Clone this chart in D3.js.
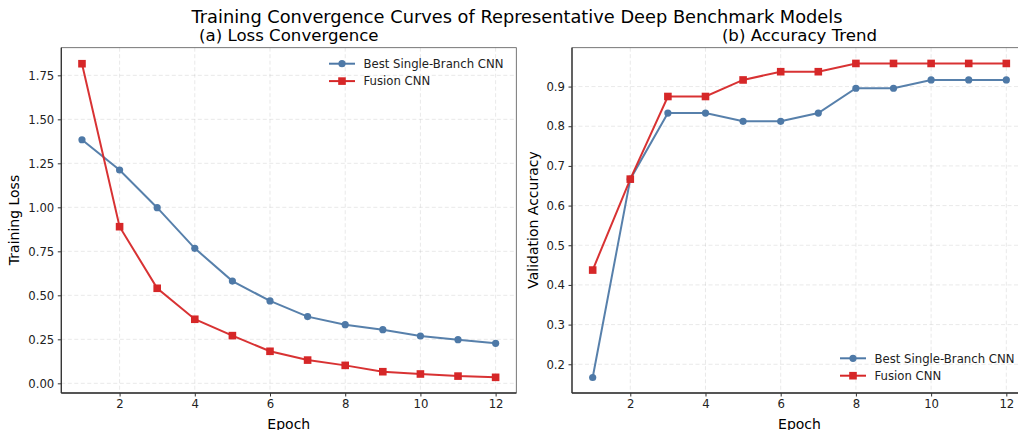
<!DOCTYPE html>
<html>
<head>
<meta charset="utf-8">
<script src="https://cdn.jsdelivr.net/npm/d3@7"></script>
<style>
  body { margin: 0; background: #fff; }
  svg { font-family: "DejaVu Sans", sans-serif; display: block; }
</style>
</head>
<body>
<div id="chart"></div>
<script>
// Training curves: loss (left) and accuracy (right)

const epochs = [1, 2, 3, 4, 5, 6, 7, 8, 9, 10, 11, 12];
const seriesNames = ["Best Single-Branch CNN", "Fusion CNN"];
const lossSingle = [1.384, 1.212, 0.998, 0.767, 0.581, 0.468, 0.379, 0.333, 0.305, 0.269, 0.248, 0.227];
const lossFusion = [1.816, 0.890, 0.540, 0.364, 0.271, 0.182, 0.132, 0.102, 0.066, 0.053, 0.041, 0.034];
const accSingle = [0.1667, 0.6667, 0.8333, 0.8333, 0.8125, 0.8125, 0.8333, 0.8958, 0.8958, 0.9167, 0.9167, 0.9167];
const accFusion = [0.4375, 0.6667, 0.875, 0.875, 0.9167, 0.9375, 0.9375, 0.9583, 0.9583, 0.9583, 0.9583, 0.9583];
const xTicks = [2, 4, 6, 8, 10, 12];
const lossTicks = [0, 0.25, 0.5, 0.75, 1.0, 1.25, 1.5, 1.75];
const accTicks = [0.2, 0.3, 0.4, 0.5, 0.6, 0.7, 0.8, 0.9];

const colors = ["#4e79a7", "#d62728"];
const width = 1018, height = 430;

const svg = d3.select("#chart").append("svg")
    .attr("width", width)
    .attr("height", height);

svg.append("text")
    .attr("x", 517).attr("y", 23)
    .attr("text-anchor", "middle")
    .style("font-size", "17.8px")
    .text("Training Convergence Curves of Representative Deep Benchmark Models");

function panel(cfg) {
    const x = d3.scaleLinear().domain([0.45, 12.55]).range([cfg.left, cfg.left + 455]);
    const y = d3.scaleLinear().domain(cfg.yDomain).range([393, 47.7]);
    const g = svg.append("g");

    // grid
    g.append("g").selectAll("line").data(xTicks).join("line")
        .attr("x1", d => x(d)).attr("x2", d => x(d))
        .attr("y1", 47.7).attr("y2", 393)
        .attr("stroke", "#b0b0b0").attr("stroke-opacity", 0.35)
        .attr("stroke-dasharray", "4,2.5").attr("stroke-width", 0.8);
    g.append("g").selectAll("line").data(cfg.yTicks).join("line")
        .attr("x1", cfg.left).attr("x2", cfg.left + 455)
        .attr("y1", d => y(d)).attr("y2", d => y(d))
        .attr("stroke", "#b0b0b0").attr("stroke-opacity", 0.35)
        .attr("stroke-dasharray", "4,2.5").attr("stroke-width", 0.8);

    // axes
    const xAxis = g.append("g")
        .attr("transform", "translate(0,393)")
        .call(d3.axisBottom(x).tickValues(xTicks).tickSize(3.5).tickPadding(3.5).tickFormat(d3.format("d")));
    const yAxis = g.append("g")
        .attr("transform", `translate(${cfg.left},0)`)
        .call(d3.axisLeft(y).tickValues(cfg.yTicks).tickSize(3.5).tickPadding(3.5).tickFormat(d3.format(cfg.fmt)));
    [xAxis, yAxis].forEach(a => {
        a.select(".domain").remove();
        a.selectAll("line").attr("stroke", "#333");
        a.selectAll("text").style("font-size", "11.7px").attr("fill", "#222")
            .style("font-family", "DejaVu Sans, sans-serif");
    });

    // frame
    g.append("rect")
        .attr("x", cfg.left).attr("y", 47.7)
        .attr("width", 455).attr("height", 393 - 47.7)
        .attr("fill", "none").attr("stroke", "#555").attr("stroke-width", 0.8);
    g.append("line").attr("x1", cfg.left).attr("x2", cfg.left)
        .attr("y1", 47.7).attr("y2", 393).attr("stroke", "#333").attr("stroke-width", 1.3);
    g.append("line").attr("x1", cfg.left).attr("x2", cfg.left + 455)
        .attr("y1", 393).attr("y2", 393).attr("stroke", "#333").attr("stroke-width", 1.3);

    // lines and markers
    const line = d3.line().x((d, i) => x(epochs[i])).y(d => y(d));
    cfg.series.forEach((vals, s) => {
        g.append("path").datum(vals)
            .attr("d", line)
            .attr("fill", "none")
            .attr("stroke", colors[s])
            .attr("stroke-width", 2)
            .attr("stroke-opacity", 0.95);
        if (s === 0) {
            g.append("g").selectAll("circle").data(vals).join("circle")
                .attr("cx", (d, i) => x(epochs[i])).attr("cy", d => y(d))
                .attr("r", 3.6).attr("fill", colors[s]);
        } else {
            g.append("g").selectAll("rect").data(vals).join("rect")
                .attr("x", (d, i) => x(epochs[i]) - 3.8).attr("y", d => y(d) - 3.8)
                .attr("width", 7.6).attr("height", 7.6).attr("fill", colors[s]);
        }
    });

    // titles
    const cx = cfg.left + 455 / 2;
    svg.append("text").attr("x", cx).attr("y", 41)
        .attr("text-anchor", "middle").style("font-size", "16.6px").text(cfg.title);
    svg.append("text").attr("x", cx).attr("y", 429)
        .attr("text-anchor", "middle").style("font-size", "14px").text("Epoch");
    svg.append("text")
        .attr("transform", `translate(${cfg.labelX},220) rotate(-90)`)
        .attr("text-anchor", "middle").style("font-size", "14px").text(cfg.yLabel);

    // legend
    const lg = svg.append("g").attr("transform", `translate(${cfg.legend[0]},${cfg.legend[1]})`);
    seriesNames.forEach((name, i) => {
        const row = lg.append("g").attr("transform", `translate(0,${i * 17.4})`);
        row.append("line").attr("x1", 0).attr("x2", 26).attr("y1", 0).attr("y2", 0)
            .attr("stroke", colors[i]).attr("stroke-width", 2);
        if (i === 0) row.append("circle").attr("cx", 13).attr("cy", 0).attr("r", 3.6).attr("fill", colors[i]);
        else row.append("rect").attr("x", 9.2).attr("y", -3.8).attr("width", 7.6).attr("height", 7.6).attr("fill", colors[i]);
        row.append("text").attr("x", 34.5).attr("y", 4.2)
            .style("font-size", "11.7px").attr("fill", "#222").text(name);
    });
}

panel({
    left: 61.3, yDomain: [-0.055, 1.907], yTicks: lossTicks, fmt: ".2f",
    series: [lossSingle, lossFusion], title: "(a) Loss Convergence",
    yLabel: "Training Loss", labelX: 19, legend: [329, 63.7]
});
panel({
    left: 572, yDomain: [0.1276, 0.998], yTicks: accTicks, fmt: ".1f",
    series: [accSingle, accFusion], title: "(b) Accuracy Trend",
    yLabel: "Validation Accuracy", labelX: 538, legend: [840, 358.3]
});
</script>
</body>
</html>
